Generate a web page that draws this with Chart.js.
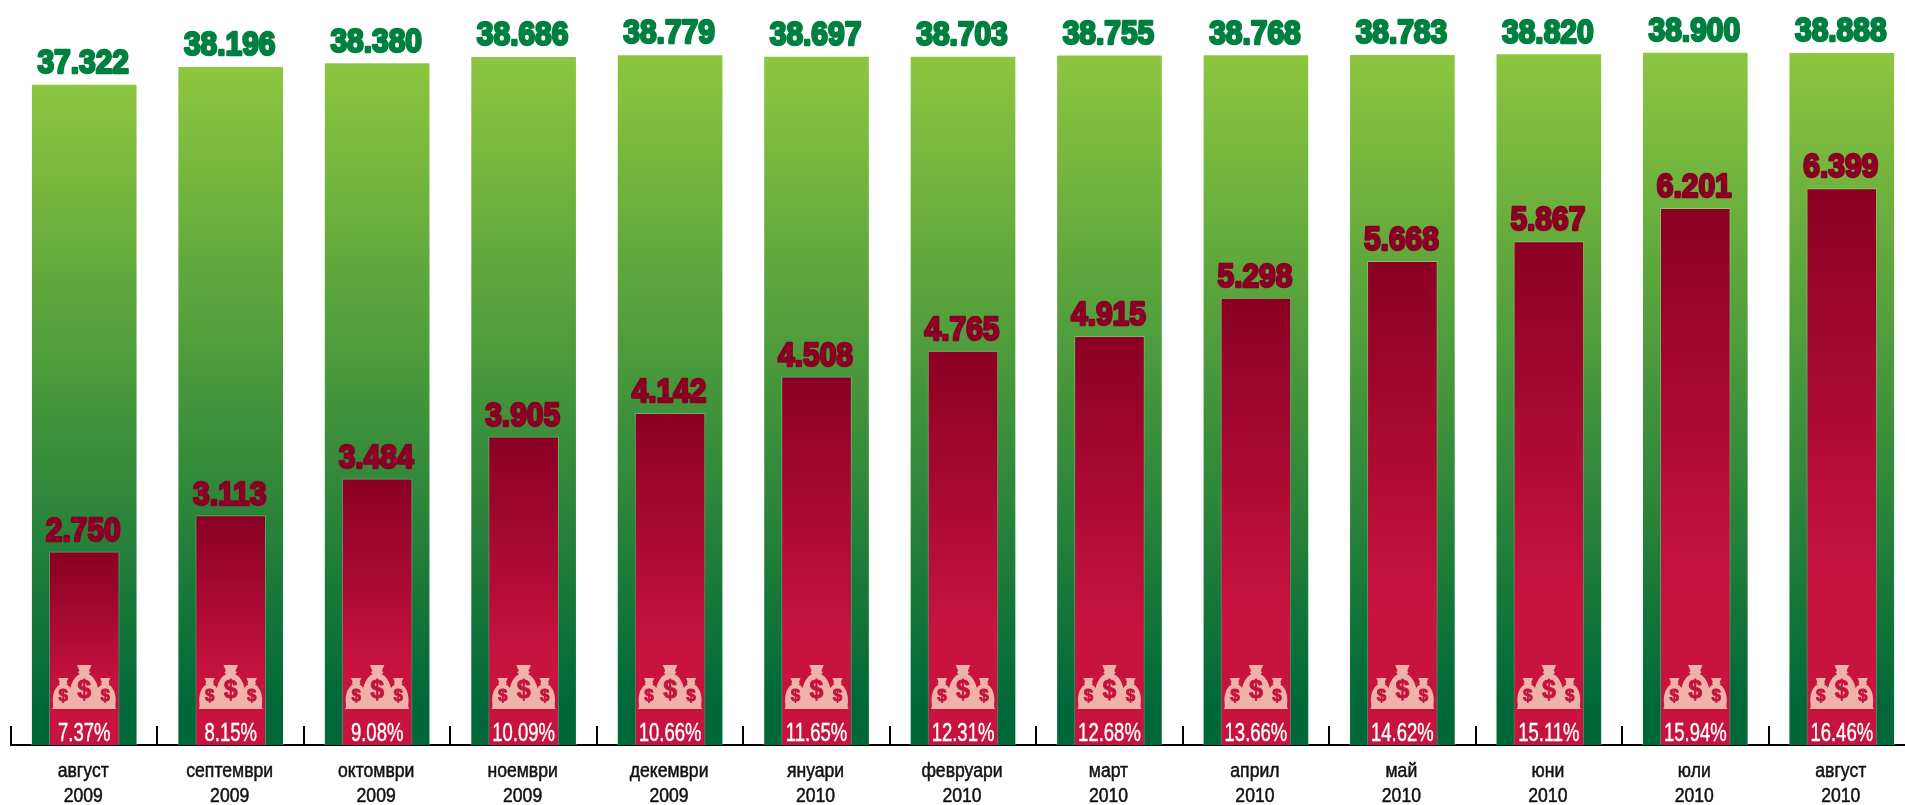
<!DOCTYPE html>
<html>
<head>
<meta charset="utf-8">
<title>Chart</title>
<script src="https://cdn.jsdelivr.net/npm/chart.js@4/dist/chart.umd.min.js"></script>
<style>
html, body { margin: 0; padding: 0; background: #fff; overflow: hidden; }
canvas { display: block; }
</style>
</head>
<body>
<canvas id="chart" width="1915" height="805"></canvas>
<script>
// Data
const months = ['август', 'септември', 'октомври', 'ноември', 'декември', 'януари', 'февруари', 'март', 'април', 'май', 'юни', 'юли', 'август'];
const years = ['2009', '2009', '2009', '2009', '2009', '2010', '2010', '2010', '2010', '2010', '2010', '2010', '2010'];
const totalValues = [37322, 38196, 38380, 38686, 38779, 38697, 38703, 38755, 38768, 38783, 38820, 38900, 38888];
const redValues = [2750, 3113, 3484, 3905, 4142, 4508, 4765, 4915, 5298, 5668, 5867, 6201, 6399];
const shares = ['7.37%', '8.15%', '9.08%', '10.09%', '10.66%', '11.65%', '12.31%', '12.68%', '13.66%', '14.62%', '15.11%', '15.94%', '16.46%'];

const sans = '"Liberation Sans", sans-serif';

// vertical gradient over the bar itself, top colour to bottom colour
function barGradient(context, axisId, top, bottom, stop) {
    const chart = context.chart;
    const scale = chart.scales[axisId];
    if (!chart.chartArea || !scale || context.raw === undefined) return bottom;
    const y0 = scale.getPixelForValue(context.raw);
    const g = chart.ctx.createLinearGradient(0, y0, 0, chart.chartArea.bottom);
    g.addColorStop(0, top);
    g.addColorStop(stop, bottom);
    g.addColorStop(1, bottom);
    return g;
}

// no condensed face is installed, so squeeze the text sideways
function narrowText(ctx, text, x, y, sx, stroke) {
    ctx.save();
    ctx.translate(x, y);
    ctx.scale(sx, 1);
    if (stroke) ctx.strokeText(text, 0, 0);
    ctx.fillText(text, 0, 0);
    ctx.restore();
}

function bagShape(ctx, cx, bottom, h) {
    const w = h * 0.64;
    const p = new Path2D();
    const X = v => cx + v * w;
    const Y = v => bottom - h + v * h;
    p.moveTo(X(-0.26), Y(0));
    p.lineTo(X(0.26), Y(0));
    p.lineTo(X(0.17), Y(0.13));
    p.lineTo(X(0.22), Y(0.17));
    p.lineTo(X(0.16), Y(0.21));
    p.bezierCurveTo(X(0.42), Y(0.28), X(0.56), Y(0.55), X(0.52), Y(0.8));
    p.bezierCurveTo(X(0.5), Y(0.9), X(0.5), Y(0.95), X(0.56), Y(1));
    p.lineTo(X(-0.56), Y(1));
    p.bezierCurveTo(X(-0.5), Y(0.95), X(-0.5), Y(0.9), X(-0.52), Y(0.8));
    p.bezierCurveTo(X(-0.56), Y(0.55), X(-0.42), Y(0.28), X(-0.16), Y(0.21));
    p.lineTo(X(-0.22), Y(0.17));
    p.lineTo(X(-0.17), Y(0.13));
    p.closePath();
    ctx.fillStyle = '#efb2aa';
    ctx.fill(p);
    ctx.fillStyle = ctx.strokeStyle = '#c5123d';
    ctx.lineWidth = 0.8;
    ctx.font = 'bold ' + Math.round(h * 0.56) + 'px ' + sans;
    ctx.textAlign = 'center';
    ctx.textBaseline = 'middle';
    ctx.strokeText('$', cx, bottom - h * 0.41);
    ctx.fillText('$', cx, bottom - h * 0.41);
}

// axis ticks, value labels, share labels and money bags
const decorations = {
    id: 'decorations',
    afterDatasetsDraw(chart) {
        const ctx = chart.ctx;
        const x = chart.scales.x;
        const base = chart.chartArea.bottom;
        const step = x.getPixelForValue(1) - x.getPixelForValue(0);
        ctx.save();

        ctx.strokeStyle = '#000';
        ctx.lineWidth = 2;
        months.forEach((m, i) => {
            const tx = Math.round(x.getPixelForValue(i) - step / 2);
            ctx.beginPath();
            ctx.moveTo(tx, base);
            ctx.lineTo(tx, base - 19);
            ctx.stroke();
        });

        months.forEach((m, i) => {
            const cx = x.getPixelForValue(i);

            bagShape(ctx, cx - 21, base - 36, 31);
            bagShape(ctx, cx + 21, base - 36, 31);
            bagShape(ctx, cx, base - 36, 44);

            ctx.textAlign = 'center';
            ctx.textBaseline = 'alphabetic';
            ctx.lineJoin = 'round';

            ctx.fillStyle = ctx.strokeStyle = '#fff';
            ctx.lineWidth = 0.4;
            ctx.font = '25px ' + sans;
            narrowText(ctx, shares[i], cx, base - 4, 0.74, true);

            ctx.fillStyle = ctx.strokeStyle = '#111';
            ctx.lineWidth = 0.5;
            ctx.font = '20px ' + sans;
            narrowText(ctx, m, cx - 1, base + 32, 0.88, true);
            narrowText(ctx, years[i], cx - 1, base + 57, 0.88, true);

            ctx.font = 'bold 34px ' + sans;
            ctx.lineWidth = 2.6;

            ctx.fillStyle = ctx.strokeStyle = '#00803f';
            const gy = chart.scales.yTotal.getPixelForValue(totalValues[i]);
            narrowText(ctx, totalValues[i].toLocaleString('de-DE'), cx - 1, gy - 11, 0.88, true);

            ctx.fillStyle = ctx.strokeStyle = '#8a0024';
            const ry = chart.scales.yRed.getPixelForValue(redValues[i]);
            narrowText(ctx, redValues[i].toLocaleString('de-DE'), cx - 1, ry - 11, 0.88, true);
        });
        ctx.restore();
    }
};

new Chart(document.getElementById('chart'), {
    type: 'bar',
    data: {
        labels: months.map((m, i) => [m, years[i]]),
        datasets: [{
            label: 'общо',
            data: totalValues,
            yAxisID: 'yTotal',
            order: 2,
            grouped: false,
            barThickness: 106,
            borderWidth: 1,
            borderColor: 'rgba(255,255,255,0.35)',
            backgroundColor: c => barGradient(c, 'yTotal', '#8dc63f', '#006838', 0.94)
        }, {
            label: 'червено',
            data: redValues,
            yAxisID: 'yRed',
            order: 1,
            grouped: false,
            barThickness: 70,
            borderWidth: 1,
            borderColor: 'rgba(255,255,255,0.25)',
            backgroundColor: c => barGradient(c, 'yRed', '#8a0024', '#c8133f', 0.72)
        }]
    },
    options: {
        responsive: false,
        animation: false,
        layout: { padding: { left: 11, right: 0, top: 0, bottom: 0 } },
        plugins: { legend: { display: false }, tooltip: { enabled: false } },
        scales: {
            x: {
                grid: { display: false },
                border: { color: '#000', width: 2 },
                ticks: { display: false },
                afterFit: s => { s.height = 60; }
            },
            yTotal: { display: false, min: 4785, max: 41460 },
            yRed: { display: false, min: 810, max: 8292 }
        }
    },
    plugins: [decorations]
});
</script>
</body>
</html>
